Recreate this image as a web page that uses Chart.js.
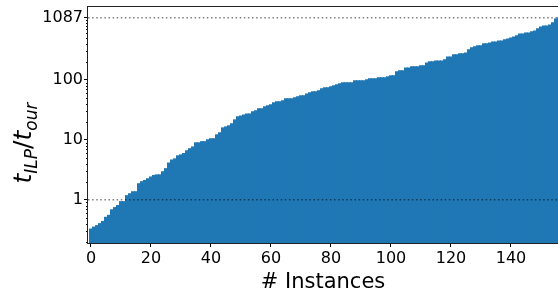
<!DOCTYPE html>
<html>
<head>
<meta charset="utf-8">
<script src="https://cdn.jsdelivr.net/npm/chart.js@4.4.1/dist/chart.umd.min.js"></script>
<style>
  body { margin: 0; background: #fff; }
  canvas { display: block; }
</style>
</head>
<body>
<canvas id="chart" width="558" height="297"></canvas>
<script>
// speedup t_ILP / t_our per instance, sorted ascending
const speedups = [
  0.325, 0.35, 0.37, 0.40, 0.435, 0.51, 0.55, 0.68, 0.74, 0.80,
  0.93, 0.93, 1.17, 1.26, 1.36, 1.36, 1.85, 2.0, 2.1, 2.24,
  2.4, 2.54, 2.6, 2.6, 2.93, 3.3, 4.1, 4.6, 4.8, 5.4,
  5.6, 5.9, 6.55, 7.1, 7.6, 8.9, 8.9, 9.3, 9.3, 10,
  10.4, 10.4, 12.1, 13.1, 15.8, 16.4, 17.1, 18.5, 21.5, 24.2,
  25, 26, 27, 27, 29.3, 30.4, 32.9, 32.9, 35.5, 36.8,
  38.3, 41.4, 43, 43, 44.7, 48.3, 48.3, 48.3, 50, 52,
  54, 54, 58, 60.8, 63, 63, 65.8, 71, 73.6, 73.6,
  76.5, 79.4, 82.5, 85.8, 89, 89, 89, 89, 96, 96,
  96, 96, 100, 104, 104, 104, 108, 108, 108, 112,
  117, 117, 136, 141, 141, 158, 158, 165, 165, 165,
  171, 171, 191, 199, 199, 206, 206, 206, 215, 240,
  240, 261, 261, 271, 271, 281, 316, 341, 355, 368,
  368, 398, 398, 412, 428, 428, 443, 443, 464, 481,
  500, 518, 540, 582, 582, 605, 605, 630, 650, 707,
  760, 790, 790, 820, 890, 1030, 1087
];
const xTicks = [0, 20, 40, 60, 80, 100, 120, 140];
const yTicks = [1, 10, 100, 1087];
const refLines = [1, 1087];

const FONT = 'DejaVu Sans';

// frame, minor log ticks and the two axis titles
const decorations = {
  id: 'decorations',
  afterDraw(chart) {
    const { ctx, chartArea: a, scales } = chart;
    const y = scales.y;
    ctx.save();

    ctx.strokeStyle = '#000';
    ctx.lineWidth = 1;
    ctx.beginPath();
    for (let k = -1; k <= 3; k++) {
      for (let m = 2; m <= 10; m++) {
        const v = m * Math.pow(10, k);
        if (v < y.min || v > y.max || yTicks.includes(v)) continue;
        const py = Math.round(y.getPixelForValue(v)) + 0.5;
        ctx.moveTo(a.left - 2, py);
        ctx.lineTo(a.left, py);
      }
    }
    ctx.stroke();

    ctx.strokeStyle = '#222';
    ctx.strokeRect(Math.round(a.left) - 0.5, Math.round(a.top) + 0.5,
      Math.round(a.right - a.left) + 1, Math.round(a.bottom - a.top));

    ctx.fillStyle = '#000';
    ctx.textBaseline = 'alphabetic';
    ctx.textAlign = 'center';
    ctx.font = `21px "${FONT}"`;
    ctx.fillText('# Instances', (a.left + a.right) / 2, 288);

    // y title with subscripts
    const big = `italic 25px "${FONT}"`;
    const small = `italic 17px "${FONT}"`;
    const parts = [
      ['t', big, 0], ['ILP', small, 6], ['/', `25px "${FONT}"`, 0],
      ['t', big, 0], ['our', small, 6]
    ];
    ctx.textAlign = 'left';
    let total = 0;
    parts.forEach(p => { ctx.font = p[1]; total += ctx.measureText(p[0]).width; });
    ctx.translate(31, 143);
    ctx.rotate(-Math.PI / 2);
    let x = -total / 2;
    parts.forEach(p => {
      ctx.font = p[1];
      ctx.fillText(p[0], x, p[2]);
      x += ctx.measureText(p[0]).width;
    });
    ctx.restore();
  }
};

new Chart(document.getElementById('chart'), {
  data: {
    datasets: [
      ...refLines.map(v => ({
        type: 'line',
        data: [{ x: -1, y: v }, { x: 156, y: v }],
        borderColor: 'rgba(0,0,0,0.5)',
        borderWidth: 1.5,
        borderDash: [1.5, 2.6],
        pointRadius: 0,
        order: 0
      })),
      {
        type: 'bar',
        data: speedups.map((v, i) => ({ x: i, y: v })),
        backgroundColor: '#1f77b4',
        borderWidth: 0,
        inflateAmount: 0.5,
        barPercentage: 1,
        categoryPercentage: 1,
        grouped: false,
        order: 1
      }
    ]
  },
  options: {
    responsive: false,
    animation: false,
    devicePixelRatio: 1,
    layout: { padding: { top: 6, right: 0, left: 0, bottom: 0 } },
    plugins: { legend: { display: false }, tooltip: { enabled: false } },
    scales: {
      x: {
        type: 'linear',
        offset: false,
        min: -1,
        max: 155.667,
        afterBuildTicks: s => { s.ticks = xTicks.map(v => ({ value: v })); },
        afterFit: s => { s.height = 54; s.paddingLeft = 0; s.paddingRight = 0; },
        grid: { drawOnChartArea: false, tickLength: 4, color: '#000', offset: false },
        border: { display: false },
        ticks: { font: { family: FONT, size: 16 }, color: '#000', padding: 2, maxRotation: 0 }
      },
      y: {
        type: 'logarithmic',
        min: 0.19,
        max: 1700,
        afterBuildTicks: s => { s.ticks = yTicks.map(v => ({ value: v })); },
        afterFit: s => { s.width = 88; s.paddingTop = 0; s.paddingBottom = 0; },
        grid: { drawOnChartArea: false, tickLength: 4, color: '#000' },
        border: { display: false },
        ticks: { font: { family: FONT, size: 16 }, color: '#000', padding: 1, callback: v => String(v) }
      }
    }
  },
  plugins: [decorations]
});
</script>
</body>
</html>
